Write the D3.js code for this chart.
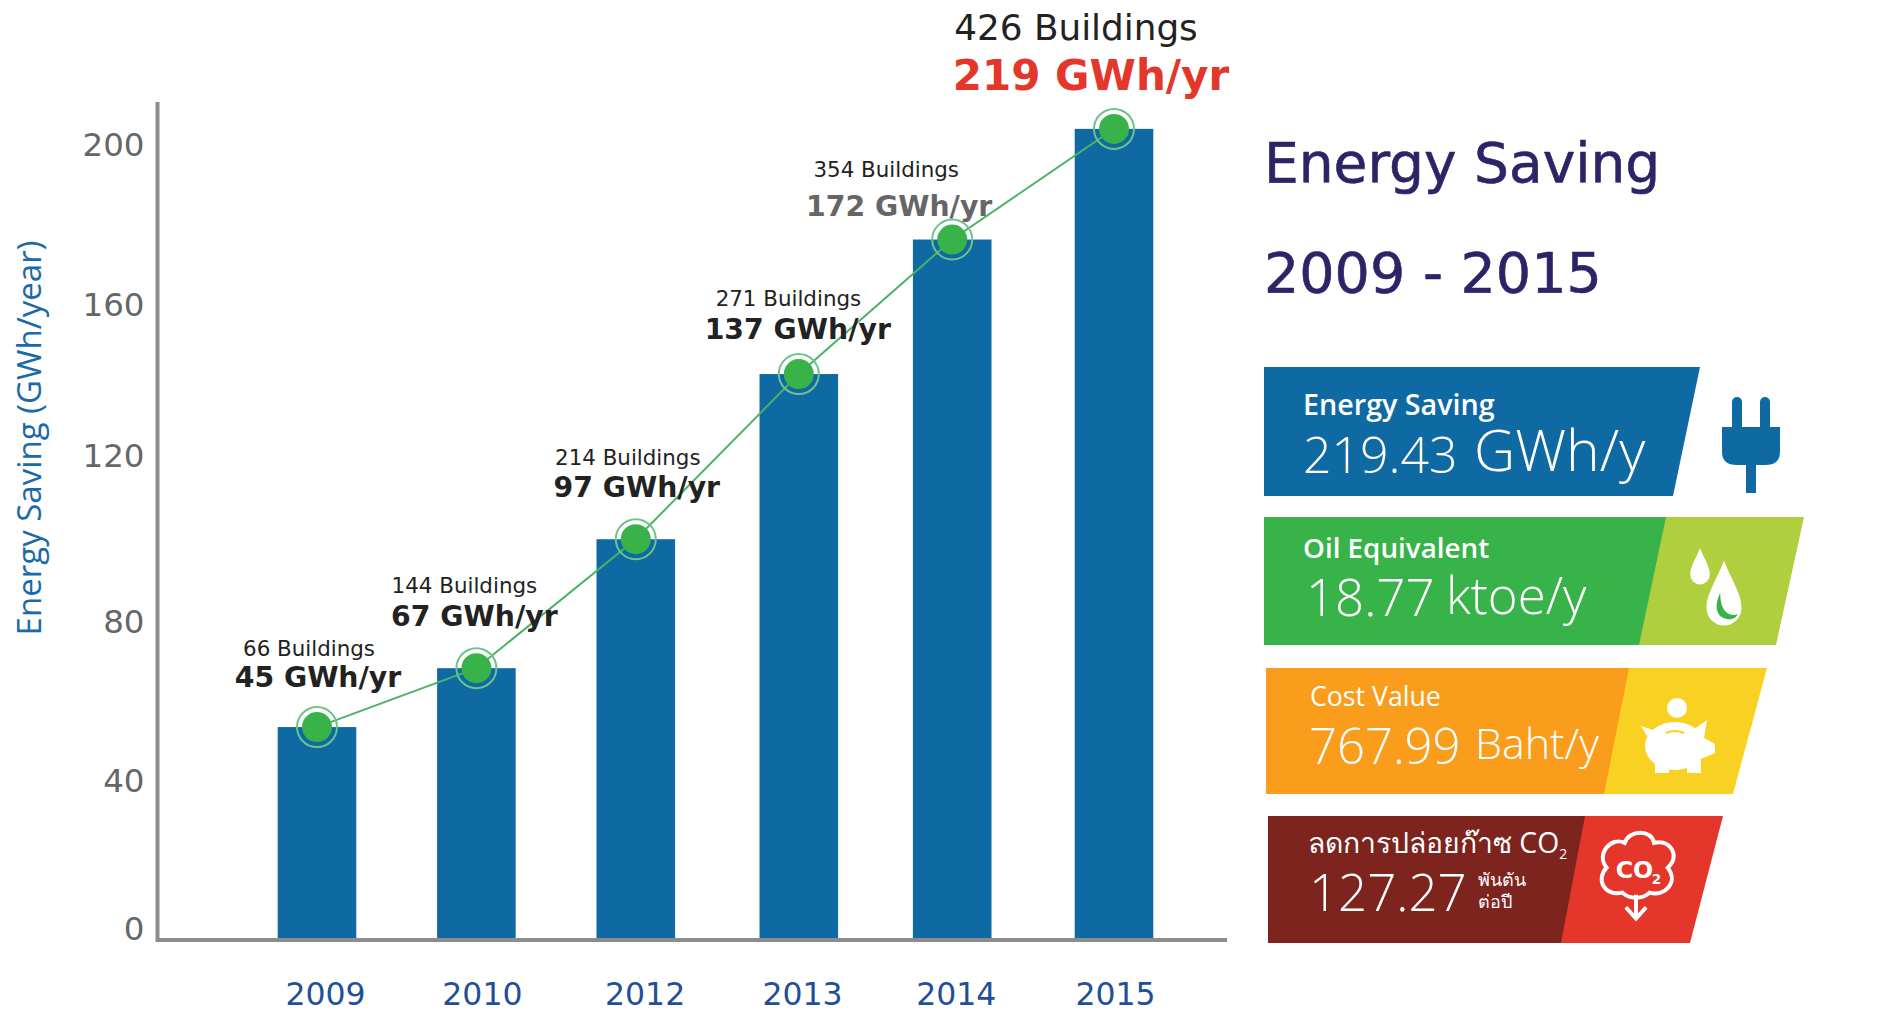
<!DOCTYPE html>
<html>
<head>
<meta charset="utf-8">
<script src="https://cdn.jsdelivr.net/npm/d3@7"></script>
<style>
  html, body { margin: 0; background: #fff; }
  svg { display: block; }
  text { font-family: "DejaVu Sans", sans-serif; }
  .panel text { font-family: "Open Sans", "Noto Sans", sans-serif; fill: #fff; }
</style>
</head>
<body>
<div id="chart"></div>
<script>
// values
const years     = ['2009', '2010', '2012', '2013', '2014', '2015'];
const savings   = [53.5, 68.3, 100.7, 142.2, 176, 203.8];
const buildings = ['66 Buildings', '144 Buildings', '214 Buildings', '271 Buildings', '354 Buildings', '426 Buildings'];
const gwhLabels = ['45 GWh/yr', '67 GWh/yr', '97 GWh/yr', '137 GWh/yr', '172 GWh/yr', '219 GWh/yr'];
const yTicks    = [0, 40, 80, 120, 160, 200];

const panelTitles = ['Energy Saving', 'Oil Equivalent', 'Cost Value', 'ลดการปล่อยก๊าซ CO'];
const panelValues = ['219.43', '18.77', '767.99', '127.27'];
const panelUnits  = ['GWh/y', 'ktoe/y', 'Baht/y', ''];

const W = 1887, H = 1013;
const svg = d3.select('#chart').append('svg').attr('width', W).attr('height', H);

// chart
const base = 940;
const band = d3.scaleBand().domain(years).range([198, 1233]).paddingInner(0.507).paddingOuter(0.5);
const y = d3.scaleLinear().domain([0, 200]).range([base, 144]);

// the bars of the original are not evenly spaced
const barNudge = [0, 0, 0, 3.6, -2.4, 0];
const x = d => band(d) + barNudge[years.indexOf(d)];
const cx = d => x(d) + band.bandwidth() / 2;
const vy = (d, i) => y(savings[i]);

svg.append('g').selectAll('rect').data(years).join('rect')
  .attr('x', x)
  .attr('y', vy)
  .attr('width', band.bandwidth())
  .attr('height', (d, i) => base - vy(d, i))
  .attr('fill', '#0f69a3');

// axes, the tick text in the original does not sit quite on its value
const yTickDy = { 0: -11, 40: 0, 80: 0, 120: -6, 160: 2, 200: 1 };
const yAxis = d3.axisLeft(y).tickValues(yTicks).tickSize(0).tickPadding(13);
const gY = svg.append('g').attr('transform', 'translate(157.5,0)').call(yAxis);
gY.select('.domain').remove();
gY.selectAll('text')
  .attr('fill', '#666').attr('font-size', 32.5)
  .attr('y', d => yTickDy[d])
  .style('font-family', '"DejaVu Sans", sans-serif');

svg.append('path')
  .attr('d', d3.line()([[157.5, 102], [157.5, base], [1227, base]]))
  .attr('fill', 'none').attr('stroke', '#8c8c8c').attr('stroke-width', 4);

const xTickDx = [8.5, 6, 9.3, 7.3, 1.7, 1.5];
const xAxis = d3.axisBottom(band).tickSize(0).tickPadding(42.5);
const gX = svg.append('g').attr('transform', `translate(0,${base})`).call(xAxis);
gX.select('.domain').remove();
gX.selectAll('text')
  .attr('dx', (d, i) => xTickDx[i])
  .attr('fill', '#1f4f98').attr('font-size', 31.5)
  .style('font-family', '"DejaVu Sans", sans-serif');

svg.append('text')
  .attr('transform', 'translate(41,438) rotate(-90)')
  .attr('text-anchor', 'middle')
  .attr('fill', '#1a6aa8').attr('font-size', 33)
  .style('font-family', '"Open Sans", sans-serif')
  .text('Energy Saving (GWh/year)');

// trend line and markers
const line = d3.line().x(d => cx(d)).y(vy);
svg.append('path').attr('d', line(years))
  .attr('fill', 'none').attr('stroke', '#4cb265').attr('stroke-width', 2);

const gDots = svg.append('g');
gDots.selectAll('.ring').data(years).join('circle').attr('class', 'ring')
  .attr('cx', cx).attr('cy', vy)
  .attr('r', 20).attr('fill', 'none').attr('stroke', '#6cc48a').attr('stroke-width', 2);
gDots.selectAll('.dot').data(years).join('circle').attr('class', 'dot')
  .attr('cx', cx).attr('cy', vy)
  .attr('r', 15).attr('fill', '#37b34a');

// labels above the markers, shifted by hand like the original
const labelDx = [-8, -12, -8, -10.4, -66, -38];
const labelDy = [-71, -75, -74, -68, -63, -89];
const valueDx = [1, -2, 1, -1, -53, -23];
const valueDy = [-40, -42, -42, -35, -24, -39];
const gLabels = svg.append('g').attr('text-anchor', 'middle');
gLabels.selectAll('.bld').data(years).join('text').attr('class', 'bld')
  .attr('x', (d, i) => cx(d) + labelDx[i])
  .attr('y', (d, i) => vy(d, i) + labelDy[i])
  .attr('fill', '#222')
  .attr('font-size', (d, i) => i === 5 ? 35.8 : 21.4)
  .text((d, i) => buildings[i]);
gLabels.selectAll('.gwh').data(years).join('text').attr('class', 'gwh')
  .attr('x', (d, i) => cx(d) + valueDx[i])
  .attr('y', (d, i) => vy(d, i) + valueDy[i])
  .attr('fill', (d, i) => i === 5 ? '#e4362a' : i === 4 ? '#666' : '#222')
  .attr('font-weight', 'bold')
  .attr('font-size', (d, i) => i === 5 ? 42 : 28.3)
  .text((d, i) => gwhLabels[i]);

// right side
svg.append('text').attr('x', 1264).attr('y', 182).attr('fill', '#2b2467').attr('stroke', '#2b2467').attr('stroke-width', 0.6)
  .attr('font-size', 55).text('Energy Saving');
svg.append('text').attr('x', 1264).attr('y', 292).attr('fill', '#2b2467').attr('stroke', '#2b2467').attr('stroke-width', 0.6)
  .attr('font-size', 55.5).text('2009 - 2015');

const slant = (xl, xlb, xt, xb, y0, y1, fill, g) =>
  g.append('path').attr('d', d3.line()([[xl, y0], [xt, y0], [xb, y1], [xlb, y1]])).attr('fill', fill);

const panels = svg.append('g').attr('class', 'panel');
slant(1264, 1264, 1700, 1673, 367, 496, '#0f69a3', panels);
slant(1640, 1614, 1804, 1776, 517, 645, '#afcf3e', panels);
slant(1264, 1264, 1666, 1639, 517, 645, '#37b34a', panels);
slant(1600, 1574, 1767, 1733, 668, 794, '#f9d122', panels);
slant(1266, 1266, 1629, 1604, 668, 794, '#fa9d1c', panels);
slant(1560, 1536, 1723, 1690, 816, 943, '#e4362a', panels);
slant(1268, 1268, 1585, 1561, 816, 943, '#7d241f', panels);

const titleX = [1303, 1303, 1310, 1308];
const titleY = [415, 558, 706, 853];
const titleSize = [28.7, 27.8, 26.7, 28.3];
const valueX = [1303, 1306, 1309, 1309];
const valueY = [473, 616, 764, 911];
const valueSize = [50, 51, 49, 51];
const unitX = [1474, 1446, 1475, 0];
const unitSize = [57, 51, 43, 0];

panelTitles.forEach((t, i) => {
  const tt = panels.append('text').attr('x', titleX[i]).attr('y', titleY[i])
    .attr('font-size', titleSize[i]).attr('font-weight', i < 2 ? 600 : 400).text(t);
  if (i === 3) tt.append('tspan').attr('font-size', 14).attr('dy', 6).text('2');
  panels.append('text').attr('x', valueX[i]).attr('y', valueY[i])
    .attr('font-size', valueSize[i]).attr('font-weight', 300).text(panelValues[i]);
  if (panelUnits[i]) panels.append('text').attr('x', unitX[i]).attr('y', valueY[i] - (i === 2 ? 5 : 2))
    .attr('font-size', unitSize[i]).attr('font-weight', 300).text(panelUnits[i]);
});
panels.append('text').attr('x', 1478).attr('y', 886).attr('font-size', 18).attr('font-weight', 300).text('พันตัน');
panels.append('text').attr('x', 1478).attr('y', 908).attr('font-size', 18).attr('font-weight', 300).text('ต่อปี');

// icons
const plug = svg.append('g').attr('transform', 'translate(1751,397)').attr('fill', '#0f69a3');
plug.append('rect').attr('x', -19).attr('y', 0).attr('width', 10).attr('height', 40).attr('rx', 5);
plug.append('rect').attr('x', 9).attr('y', 0).attr('width', 10).attr('height', 40).attr('rx', 5);
plug.append('path').attr('d', 'M-29,30H29V55Q29,68 14,68H5V96H-5V68H-14Q-29,68 -29,55Z');

const drop = 'M0,-30C6,-14 14,-4 14,8A14,14 0 0 1 -14,8C-14,-4 -6,-14 0,-30Z';
const drops = svg.append('g').attr('transform', 'translate(1715,587)').attr('fill', '#fff');
drops.append('path').attr('d', drop).attr('transform', 'translate(-15,-18) scale(0.7)');
drops.append('g').attr('transform', 'translate(9,11) scale(1.25)').call(g => {
  g.append('path').attr('d', drop);
  g.append('path').attr('d', 'M-3,-4C-8,6 -7,16 4,17C8,17 10,15 11,13C5,15 -3,12 -3,-4Z').attr('fill', '#37b34a');
});

const pig = svg.append('g').attr('transform', 'translate(1679,746)').attr('fill', '#fff');
pig.append('circle').attr('cx', -2).attr('cy', -38).attr('r', 10);
pig.append('ellipse').attr('cx', -4).attr('cy', 0).attr('rx', 30).attr('ry', 24);
pig.append('path').attr('d', 'M14,-16L28,-26L25,-8L36,-2V7L24,12L10,20Z');
pig.append('path').attr('d', 'M-24,14H-10V27H-24ZM8,14H22V27H8ZM-32,-10L-38,-20L-26,-16Z');
pig.append('path').attr('d', 'M-13,-13Q-4,-17 5,-13').attr('fill', 'none').attr('stroke', '#f9d122').attr('stroke-width', 2);

const cloud = svg.append('g').attr('transform', 'translate(1636,870) scale(1.13)')
  .attr('fill', 'none').attr('stroke', '#fff').attr('stroke-width', 3.5);
cloud.append('path').attr('d', 'M-12,20C-28,24 -36,8 -26,-2C-36,-14 -22,-30 -10,-24C-6,-36 14,-36 16,-24C30,-28 40,-12 28,-2C38,10 26,24 12,20C6,26 -6,26 -12,20Z');
cloud.append('path').attr('d', 'M0,22V42M-9,33L0,43L9,33');
cloud.append('text').attr('x', -18).attr('y', 7).attr('font-size', 21).attr('font-weight', 700)
  .attr('stroke', 'none').attr('fill', '#fff').text('CO');
cloud.append('text').attr('x', 14).attr('y', 12).attr('font-size', 12).attr('font-weight', 700)
  .attr('stroke', 'none').attr('fill', '#fff').text('2');
</script>
</body>
</html>
